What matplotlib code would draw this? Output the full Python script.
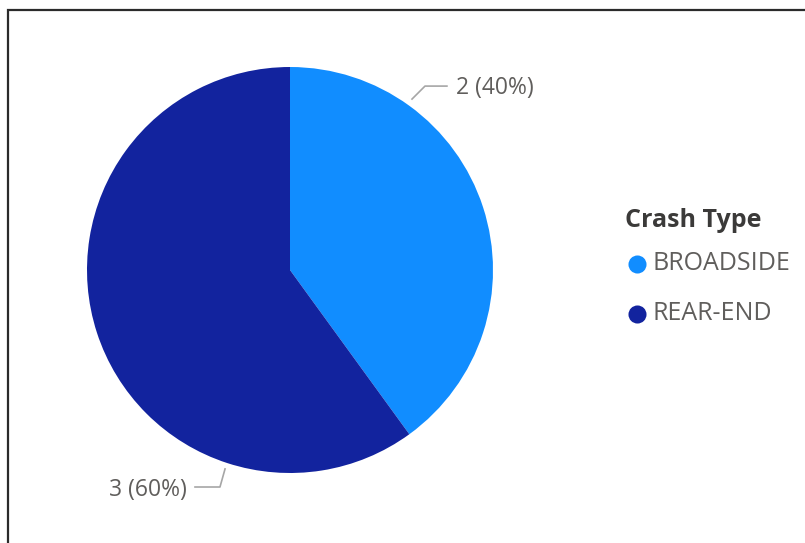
import matplotlib
matplotlib.use("Agg")
import matplotlib.pyplot as plt
import numpy as np
from matplotlib.lines import Line2D

categories = ["BROADSIDE", "REAR-END"]
values = [2, 3]
colors = ["#118DFF", "#12239E"]
legend_title = "Crash Type"

W, H = 805, 543
fig = plt.figure(figsize=(W / 100, H / 100), dpi=100)
fig.patch.set_facecolor("white")

# pie axes: center (290, 270) px, radius 203 px
cx, cy, r = 290, 270, 203
ax = fig.add_axes([(cx - r) / W, (H - cy - r) / H, 2 * r / W, 2 * r / H])
wedges, _ = ax.pie(values, colors=colors, startangle=90, counterclock=False,
                   radius=1.0, wedgeprops=dict(linewidth=0))
ax.set_xlim(-1, 1)
ax.set_ylim(-1, 1)
ax.set_aspect("equal")
ax.axis("off")

total = sum(values)
labels = [f"{v} ({v / total:.0%})" for v in values]
txt_color = "#605E5C"
line_color = "#A6A6A6"
font = "Open Sans"

# leader geometry (in pie radius units)
leaders = [
    dict(pts=[(0.601, 0.842), (0.665, 0.906), (0.773, 0.906)], tx=0.818, ty=0.898, ha="left"),
    dict(pts=[(-0.320, -0.980), (-0.345, -1.069), (-0.468, -1.069)], tx=-0.507, ty=-1.083, ha="right"),
]
for lab, ld in zip(labels, leaders):
    xs, ys = zip(*ld["pts"])
    ax.add_line(Line2D(xs, ys, color=line_color, lw=1.2, clip_on=False))
    ax.text(ld["tx"], ld["ty"], lab, ha=ld["ha"], va="center", fontsize=16.5,
            color=txt_color, family=font, clip_on=False)

# legend
fig.text(625 / W, 1 - 220 / H, legend_title, ha="left", va="center", fontsize=18,
         fontweight="bold", color="#3B3A39", family=font)
for i, (c, name) in enumerate(zip(colors, categories)):
    y = 1 - (264 + 50 * i) / H
    fig.add_artist(Line2D([637 / W], [y], marker="o", markersize=13, color=c,
                          markeredgewidth=0, linestyle="none", transform=fig.transFigure))
    fig.text(652 / W, y, name, ha="left", va="center", fontsize=18,
             color=txt_color, family=font)

# border (top and left)
fig.add_artist(Line2D([8 / W, 8 / W, 1], [0, 1 - 10 / H, 1 - 10 / H], color="#2b2b2b",
                      lw=1.6, transform=fig.transFigure, solid_joinstyle="miter"))

fig.savefig("out.png", dpi=100)
